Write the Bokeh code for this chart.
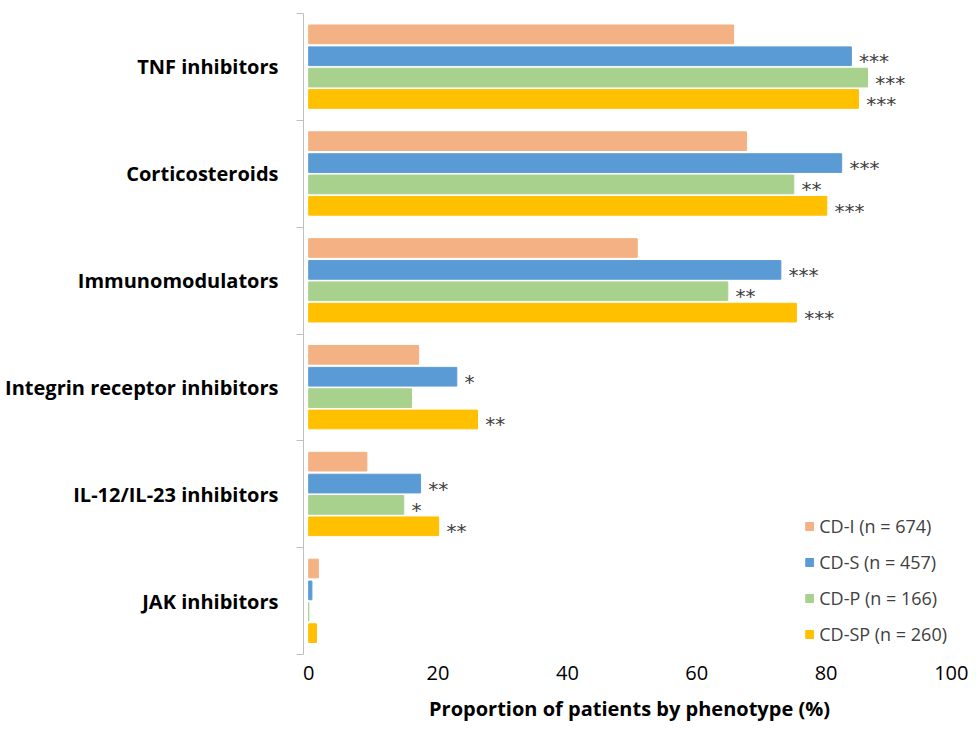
from bokeh.plotting import figure
from bokeh.models import ColumnDataSource, FixedTicker, Legend, LegendItem
from bokeh.core.properties import value
from bokeh.embed import file_html
from bokeh.resources import INLINE

categories = ["TNF inhibitors", "Corticosteroids", "Immunomodulators",
              "Integrin receptor inhibitors", "IL-12/IL-23 inhibitors", "JAK inhibitors"]
series = ["CD-I (n = 674)", "CD-S (n = 457)", "CD-P (n = 166)", "CD-SP (n = 260)"]
cd_i = [65.7, 67.7, 50.8, 17.0, 9.0, 1.5]
cd_s = [83.9, 82.4, 73.0, 22.9, 17.3, 0.5]
cd_p = [86.4, 75.0, 64.8, 15.9, 14.7, 0.0]
cd_sp = [85.0, 80.1, 75.4, 26.1, 20.1, 1.2]
stars_i = ["", "", "", "", "", ""]
stars_s = ["***", "***", "***", "*", "**", ""]
stars_p = ["***", "**", "**", "", "*", ""]
stars_sp = ["***", "***", "***", "**", "**", ""]

colors = ["#F4B183", "#5B9BD5", "#A9D18E", "#FFC000"]
offsets = [-0.305, -0.1, 0.1, 0.3]
FONT = "Open Sans"

p = figure(width=968, height=724, x_range=(-0.8, 100), y_range=(5.5, -0.5),
           output_backend="svg", toolbar_location=None,
           min_border_left=303, min_border_right=13, min_border_top=13, min_border_bottom=68)
p.outline_line_color = None
p.grid.grid_line_color = None

items = []
for vals, stars, col, off, name in zip([cd_i, cd_s, cd_p, cd_sp],
                                       [stars_i, stars_s, stars_p, stars_sp],
                                       colors, offsets, series):
    src = ColumnDataSource(dict(y=[i + off for i in range(len(categories))],
                                v=vals, s=stars, tx=[v + 1.2 for v in vals]))
    r = p.hbar(y="y", right="v", left=0, height=0.175, color=col, source=src)
    p.text(x="tx", y="y", text="s", source=src, text_font_size="20px",
           text_font=value("DejaVu Sans"),
           text_color="#404040", text_baseline="middle", y_offset=5)
    items.append(LegendItem(label=name, renderers=[r]))

legend = Legend(items=items, location="bottom_right", border_line_color=None,
                background_fill_alpha=0, label_text_font_size="18px",
                label_text_font=FONT, label_text_color="#404040",
                glyph_width=10, glyph_height=10, spacing=12, margin=8)
p.add_layout(legend)

p.xaxis.ticker = FixedTicker(ticks=[0, 20, 40, 60, 80, 100])
p.xaxis.axis_line_color = None
p.xaxis.major_tick_line_color = None
p.xaxis.minor_tick_line_color = None
p.xaxis.major_label_text_font_size = "20px"
p.xaxis.axis_label = "Proportion of patients by phenotype (%)"
p.xaxis.axis_label_text_font_size = "20px"
p.xaxis.axis_label_text_font_style = "bold"
p.xaxis.axis_label_standoff = 12

p.yaxis.ticker = FixedTicker(ticks=list(range(6)), minor_ticks=[i - 0.5 for i in range(7)])
p.yaxis.major_label_overrides = {i: c for i, c in enumerate(categories)}
p.yaxis.major_tick_line_color = None
p.yaxis.minor_tick_line_color = "#BFBFBF"
p.yaxis.minor_tick_out = 7
p.yaxis.minor_tick_in = 0
p.yaxis.axis_line_color = "#BFBFBF"
p.yaxis.major_label_text_font_size = "20px"
p.yaxis.major_label_text_font_style = "bold"
p.yaxis.major_label_standoff = 18
for ax in [p.xaxis, p.yaxis]:
    ax.major_label_text_color = "black"
    ax.axis_label_text_color = "black"
    ax.major_label_text_font = FONT
    ax.axis_label_text_font = FONT

open("out.html", "w").write(file_html(p, INLINE))
